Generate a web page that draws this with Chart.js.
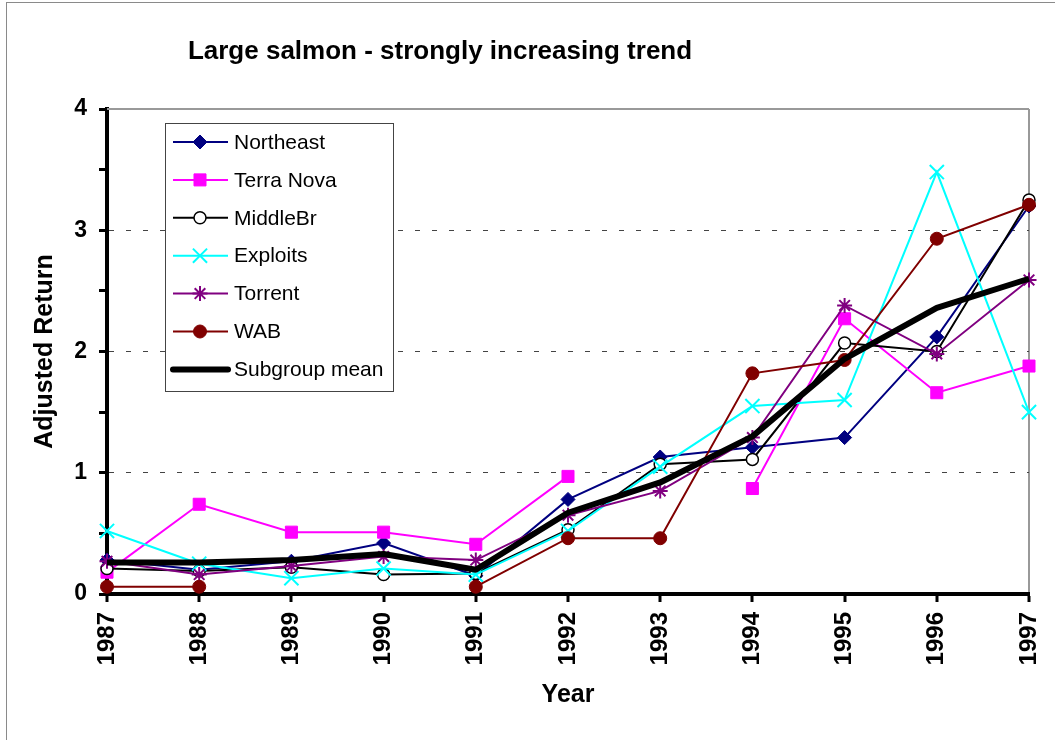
<!DOCTYPE html>
<html>
<head>
<meta charset="utf-8">
<title>Large salmon - strongly increasing trend</title>
<script src="https://cdn.jsdelivr.net/npm/chart.js@4/dist/chart.umd.min.js"></script>
<style>
  html, body { margin: 0; padding: 0; background: #fff; }
  #wrap { width: 1055px; height: 740px; position: relative; }
  canvas { display: block; }
</style>
</head>
<body>
<div id="wrap"><canvas id="chart" width="1055" height="740"></canvas></div>
<script>
// Return years
const years = ['1987', '1988', '1989', '1990', '1991', '1992', '1993', '1994', '1995', '1996', '1997'];

// Adjusted returns per river (null = no data that year)
const northeast = [0.28, 0.20, 0.27, 0.42, 0.15, 0.78, 1.13, 1.21, 1.29, 2.12, 3.20];
const terraNova = [0.18, 0.74, 0.51, 0.51, 0.41, 0.97, null, 0.87, 2.27, 1.66, 1.88];
const middleBr  = [0.21, 0.19, 0.22, 0.16, 0.17, 0.53, 1.07, 1.11, 2.07, 2.00, 3.25];
const exploits  = [0.52, 0.25, 0.13, 0.21, 0.16, 0.52, 1.05, 1.55, 1.60, 3.48, 1.50];
const torrent   = [0.27, 0.16, 0.23, 0.31, 0.28, 0.65, 0.85, 1.29, 2.38, 1.98, 2.59];
const wab       = [0.06, 0.06, null, null, 0.06, 0.46, 0.46, 1.82, 1.93, 2.93, 3.21];
const subgroupMean = [0.26, 0.26, 0.28, 0.33, 0.20, 0.67, 0.92, 1.30, 1.94, 2.36, 2.60];

const seriesNames = ['Northeast', 'Terra Nova', 'MiddleBr', 'Exploits', 'Torrent', 'WAB', 'Subgroup mean'];
const titleText = 'Large salmon - strongly increasing trend';
const yTitle = 'Adjusted Return';
const xTitle = 'Year';

const FONT = "'Liberation Sans', Arial, Helvetica, sans-serif";
const CLEAR = 'rgba(0,0,0,0)';

function river(label, data, color, style, radius, fill, order, bw) {
  return {
    label, data, order,
    borderColor: color,
    backgroundColor: fill,
    borderWidth: 2,
    tension: 0,
    spanGaps: false,
    pointStyle: style,
    pointRadius: radius,
    pointHoverRadius: radius,
    pointBackgroundColor: fill,
    pointBorderColor: color,
    pointBorderWidth: bw
  };
}

const datasets = [
  river(seriesNames[0], northeast, '#000080', 'rectRot', 7, '#000080', 6, 1),
  river(seriesNames[1], terraNova, '#FF00FF', 'rect', 8.5, '#FF00FF', 5, 1),
  river(seriesNames[2], middleBr, '#000000', 'circle', 6, '#FFFFFF', 4, 1.5),
  river(seriesNames[3], exploits, '#00FFFF', 'crossRot', 10, '#00FFFF', 3, 2),
  river(seriesNames[4], torrent, '#800080', 'star', 7.5, '#800080', 2, 2),
  river(seriesNames[5], wab, '#800000', 'circle', 6.5, '#800000', 1, 1),
  {
    label: seriesNames[6], data: subgroupMean, order: 0,
    borderColor: '#000000', backgroundColor: '#000000',
    borderWidth: 6, borderJoinStyle: 'round', tension: 0,
    pointRadius: 0, pointHoverRadius: 0, pointStyle: false
  }
];

// white page, outer frame, plot frame, title and boxed legend
const decorations = {
  id: 'decorations',
  beforeDraw(chart) {
    const c = chart.ctx;
    c.save();
    c.fillStyle = '#fff';
    c.fillRect(0, 0, chart.width, chart.height);
    c.strokeStyle = '#8a8a8a';
    c.lineWidth = 1;
    c.strokeRect(6.5, 2.5, chart.width + 20, chart.height + 20);
    c.restore();
  },
  beforeDatasetsDraw(chart) {
    const a = chart.chartArea, c = chart.ctx;
    c.save();
    c.strokeStyle = '#999';
    c.lineWidth = 2;
    c.beginPath();
    c.moveTo(a.left, a.top);
    c.lineTo(a.right, a.top);
    c.stroke();
    c.restore();
  },
  afterDraw(chart) {
    const c = chart.ctx;
    c.save();
    // title
    c.fillStyle = '#000';
    c.font = 'bold 26px ' + FONT;
    c.textAlign = 'center';
    c.textBaseline = 'middle';
    c.fillText(titleText, 440, 52);

    // legend box
    const bx = 165.5, by = 123.5, bw = 228, bh = 268;
    c.fillStyle = '#fff';
    c.fillRect(bx, by, bw, bh);
    c.strokeStyle = '#444';
    c.lineWidth = 1;
    c.strokeRect(bx, by, bw, bh);

    c.font = '21px ' + FONT;
    c.textAlign = 'left';
    c.textBaseline = 'middle';
    chart.data.datasets.forEach((ds, i) => {
      const y = 142 + i * 37.9;
      c.save();
      c.strokeStyle = ds.borderColor;
      c.lineWidth = ds.borderWidth;
      c.lineCap = ds.borderWidth > 3 ? 'round' : 'butt';
      c.beginPath();
      c.moveTo(173, y);
      c.lineTo(228, y);
      c.stroke();
      c.restore();
      if (ds.pointStyle && ds.pointRadius > 0) {
        c.save();
        c.fillStyle = ds.pointBackgroundColor;
        c.strokeStyle = ds.pointBorderColor;
        c.lineWidth = ds.pointBorderWidth;
        Chart.helpers.drawPoint(c, {
          pointStyle: ds.pointStyle,
          radius: ds.pointRadius,
          borderWidth: ds.pointBorderWidth,
          rotation: 0
        }, 200, y);
        c.restore();
      }
      c.fillStyle = '#000';
      c.fillText(ds.label, 234, y + 1);
    });
    c.restore();
  }
};

new Chart(document.getElementById('chart'), {
  type: 'line',
  data: { labels: years, datasets },
  plugins: [decorations],
  options: {
    responsive: false,
    animation: false,
    events: [],
    layout: { padding: { top: 109, right: 26, left: 0, bottom: 0 } },
    plugins: {
      legend: { display: false },
      title: { display: false },
      tooltip: { enabled: false }
    },
    scales: {
      x: {
        type: 'category',
        offset: false,
        afterFit(s) { s.height = 146; s.paddingLeft = 0; s.paddingRight = 0; },
        border: { display: true, color: '#000', width: 4 },
        grid: {
          display: true,
          drawOnChartArea: true,
          color: ctx => (ctx.index === years.length - 1 ? '#999' : CLEAR),
          lineWidth: 2,
          drawTicks: true,
          tickLength: 8,
          tickWidth: 3,
          tickColor: '#000'
        },
        ticks: {
          autoSkip: false,
          maxRotation: 90,
          minRotation: 90,
          padding: 10,
          color: '#000',
          font: { family: FONT, size: 24, weight: 'bold' }
        },
        title: {
          display: true,
          text: xTitle,
          color: '#000',
          font: { family: FONT, size: 25, weight: 'bold' },
          padding: { top: 0, bottom: 30 }
        }
      },
      y: {
        min: 0,
        max: 4,
        afterFit(s) { s.width = 107; s.paddingTop = 0; s.paddingBottom = 0; },
        border: { display: true, color: '#000', width: 4, dash: [5, 12] },
        grid: {
          display: true,
          drawOnChartArea: true,
          color: ctx => (ctx.tick && [1, 2, 3].includes(ctx.tick.value) ? '#444' : CLEAR),
          lineWidth: 1,
          drawTicks: true,
          tickLength: 8,
          tickWidth: 3,
          tickColor: '#000'
        },
        ticks: {
          stepSize: 0.5,
          autoSkip: false,
          padding: 12,
          color: '#000',
          font: { family: FONT, size: 23, weight: 'bold' },
          callback: v => (Number.isInteger(v) ? String(v) : '')
        },
        title: {
          display: true,
          text: yTitle,
          color: '#000',
          font: { family: FONT, size: 25, weight: 'bold' },
          padding: { top: 30, bottom: 0 }
        }
      }
    }
  }
});
</script>
</body>
</html>
